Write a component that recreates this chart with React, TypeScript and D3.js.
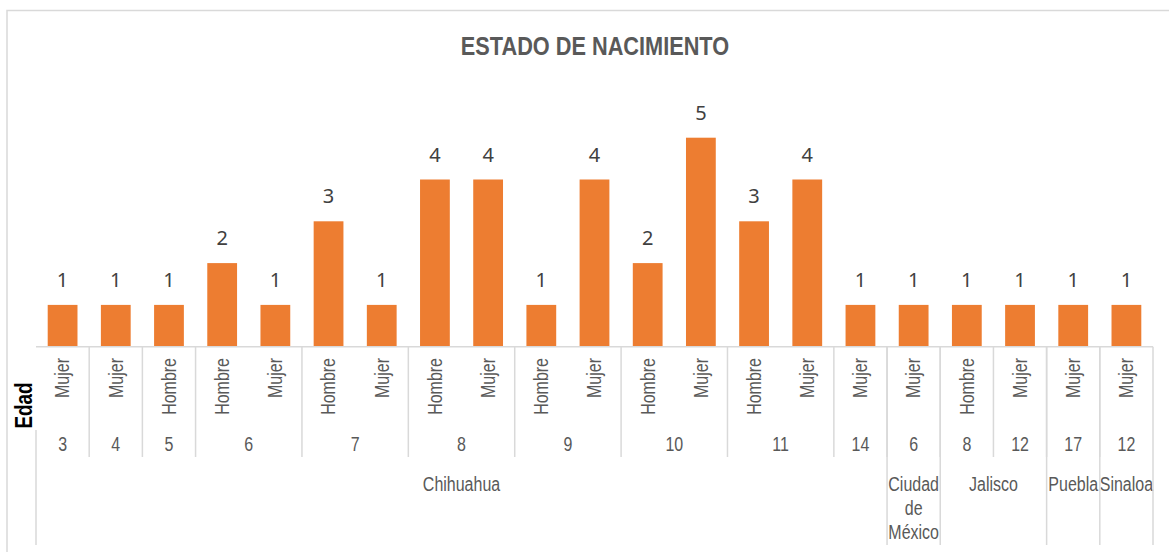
import React from "react";
import * as d3 from "d3";

const sexes = ["Mujer","Mujer","Hombre","Hombre","Mujer","Hombre","Mujer","Hombre","Mujer","Hombre","Mujer","Hombre","Mujer","Hombre","Mujer","Mujer","Mujer","Hombre","Mujer","Mujer","Mujer"];
const ages = ["3","4","5","6","6","7","7","8","8","9","9","10","10","11","11","14","6","8","12","17","12"];
const states = ["Chihuahua","Chihuahua","Chihuahua","Chihuahua","Chihuahua","Chihuahua","Chihuahua","Chihuahua","Chihuahua","Chihuahua","Chihuahua","Chihuahua","Chihuahua","Chihuahua","Chihuahua","Chihuahua","Ciudad de México","Jalisco","Jalisco","Puebla","Sinaloa"];
const values = [1,1,1,2,1,3,1,4,4,1,4,2,5,3,4,1,1,1,1,1,1];

const title = "ESTADO DE NACIMIENTO";
const axisTitle = "Edad";

const W = 1169, H = 552;
const NARROW = "'Liberation Sans', Arial, sans-serif";
const SX = 0.82;
const LABEL_FONT = "'Noto Sans', 'Open Sans', sans-serif";

function runs(keyFn: (i: number) => string) {
  const out: { start: number; end: number; i: number }[] = [];
  for (let i = 0; i < values.length; i++) {
    const last = out[out.length - 1];
    if (last && keyFn(last.i) === keyFn(i)) last.end = i + 1;
    else out.push({ start: i, end: i + 1, i });
  }
  return out;
}

export default function App() {
  const idx = values.map((_, i) => String(i));
  const x = d3.scaleBand<string>().domain(idx).range([36, 1153]).paddingInner(0.44).paddingOuter(0.22);
  const xb = d3.scaleLinear().domain([0, values.length]).range([36, 1153]);
  const y = d3.scaleLinear().domain([0, 6]).range([346.7, 346.7 - 6 * 41.8]);
  const axisY = y(0);

  const ageGroups = runs((i) => states[i] + "|" + ages[i]);
  const stateGroups = runs((i) => states[i]);
  const grid = "#d9d9d9";
  const txt = "#595959";

  return (
    <svg width={W} height={H} style={{ position: "absolute", left: 0, top: 0 }}>
      <rect x={0} y={0} width={W} height={H} fill="#fff" />
      <rect x={7} y={10.5} width={1175} height={600} fill="#fff" stroke={grid} strokeWidth={1.5} />
      <text transform={`translate(595,55) scale(${SX},1)`} textAnchor="middle" fontFamily={NARROW} fontWeight="bold" fontSize={26.5} fill={txt}>{title}</text>

      {values.map((v, i) => (
        <g key={i}>
          <rect x={x(String(i))} y={y(v)} width={x.bandwidth()} height={axisY - y(v)} fill="#ED7D31" />
          <text x={x(String(i))! + x.bandwidth() / 2} y={y(v) - 18} textAnchor="middle" fontFamily={LABEL_FONT} fontSize={20} fill="#404040">{v}</text>
        </g>
      ))}

      <line x1={36} x2={1153} y1={axisY} y2={axisY} stroke={grid} strokeWidth={1.5} />

      {sexes.map((s, i) => {
        const cx = x(String(i))! + x.bandwidth() / 2;
        return (
          <text key={i} transform={`translate(${cx},358) rotate(-90) scale(${SX},1)`} textAnchor="end" dy="0.35em" fontFamily={NARROW} fontSize={19.5} fill={txt}>{s}</text>
        );
      })}

      {ageGroups.map((g, k) => (
        <g key={k}>
          <text transform={`translate(${(xb(g.start) + xb(g.end)) / 2},450.5) scale(${SX},1)`} textAnchor="middle" fontFamily={NARROW} fontSize={19.5} fill={txt}>{ages[g.i]}</text>
          {g.start > 0 && <line x1={xb(g.start)} x2={xb(g.start)} y1={axisY} y2={457} stroke={grid} strokeWidth={1.5} />}
        </g>
      ))}

      {stateGroups.map((g, k) => {
        const label = states[g.i];
        const lines = g.end - g.start === 1 && label.includes(" ") ? label.split(" ") : [label];
        return (
          <g key={k}>
            {lines.map((l, j) => (
              <text key={j} transform={`translate(${(xb(g.start) + xb(g.end)) / 2},${491 + j * 24}) scale(${SX},1)`} textAnchor="middle" fontFamily={NARROW} fontSize={19.5} fill={txt}>{l}</text>
            ))}
            {g.start > 0 && <line x1={xb(g.start)} x2={xb(g.start)} y1={axisY} y2={545} stroke={grid} strokeWidth={1.5} />}
          </g>
        );
      })}
      <line x1={xb(values.length)} x2={xb(values.length)} y1={axisY} y2={545} stroke={grid} strokeWidth={1.5} />
      <line x1={36} x2={36} y1={430} y2={545} stroke={grid} strokeWidth={1.5} />

      <text transform={`translate(24,405.5) rotate(-90) scale(${SX},1)`} textAnchor="middle" dy="0.35em" fontFamily={NARROW} fontWeight="bold" fontSize={23} fill="#000">{axisTitle}</text>
    </svg>
  );
}
